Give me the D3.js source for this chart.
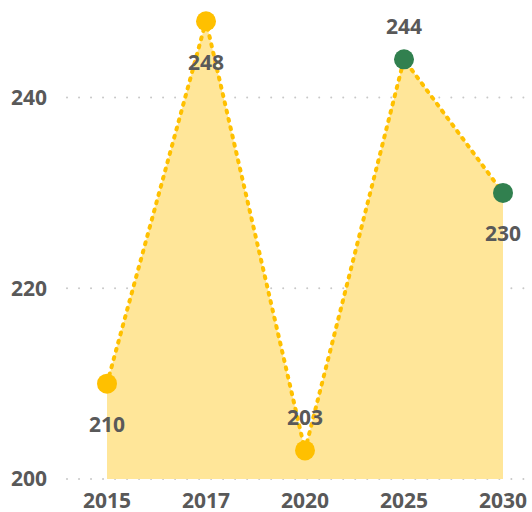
<!DOCTYPE html>
<html><head><meta charset="utf-8">
<script src="https://cdn.jsdelivr.net/npm/d3@7"></script>
<style>body{margin:0;background:#fff}svg{display:block}</style>
</head><body>
<svg id="c" width="532" height="512"></svg>
<script>
const categories = ["2015","2017","2020","2025","2030"];
const values = [210, 248, 203, 244, 230];
const pointColors = ["#FFC000","#FFC000","#FFC000","#31804F","#31804F"];
const labelPos = ["below","below","above","above","below"];
const yTicks = [200, 220, 240];

const svg = d3.select("#c");
const x = d3.scalePoint().domain(categories).range([107, 503]);
const y = d3.scaleLinear().domain([200, 240]).range([479, 97.5]);
const font = "'Open Sans', 'Segoe UI', sans-serif";
const textColor = "#595959";
const fs = 21;

// gridlines
const gy = svg.append("g");
yTicks.forEach(t => {
  gy.append("line").attr("x1", 67).attr("x2", 532).attr("y1", y(t)).attr("y2", y(t))
    .attr("stroke", "#c8c8c8").attr("stroke-width", 2)
    .attr("stroke-dasharray", "0.01 12").attr("stroke-linecap", "round");
  gy.append("text").attr("x", 47).attr("y", y(t)).attr("dy", "0.35em")
    .attr("text-anchor", "end").attr("font-family", font).attr("font-weight", "bold")
    .attr("font-size", fs).attr("fill", textColor).text(t);
});

const data = categories.map((c, i) => ({c, v: values[i], col: pointColors[i], pos: labelPos[i]}));

svg.append("path").datum(data)
  .attr("d", d3.area().x(d => x(d.c)).y0(y(200)).y1(d => y(d.v)))
  .attr("fill", "#FFE699");

svg.append("path").datum(data)
  .attr("d", d3.line().x(d => x(d.c)).y(d => y(d.v)))
  .attr("fill", "none").attr("stroke", "#FFC000").attr("stroke-width", 4)
  .attr("stroke-dasharray", "2 6.5").attr("stroke-linecap", "round");

svg.selectAll("circle.pt").data(data).join("circle")
  .attr("cx", d => x(d.c)).attr("cy", d => y(d.v)).attr("r", 10).attr("fill", d => d.col);

svg.selectAll("text.lbl").data(data).join("text")
  .attr("x", d => x(d.c)).attr("y", d => y(d.v) + (d.pos === "below" ? 41 : -33))
  .attr("dy", "0.35em").attr("text-anchor", "middle")
  .attr("font-family", font).attr("font-weight", "bold").attr("font-size", fs)
  .attr("fill", textColor).text(d => d.v);

// x axis labels
svg.selectAll("text.xl").data(categories).join("text")
  .attr("x", d => x(d)).attr("y", 501).attr("dy", "0.35em").attr("text-anchor", "middle")
  .attr("font-family", font).attr("font-weight", "bold").attr("font-size", fs)
  .attr("fill", textColor).text(d => d);
</script>
</body></html>
